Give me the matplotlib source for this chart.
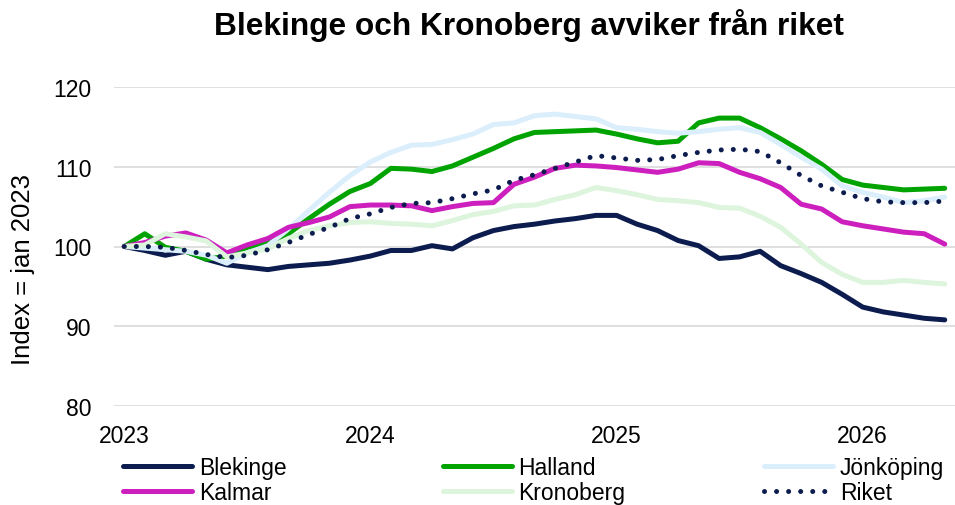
import numpy as np
import matplotlib
matplotlib.use("Agg")
import matplotlib.pyplot as plt

plt.rcParams['font.family'] = ['Liberation Sans', 'DejaVu Sans']

# monthly index, jan 2023 = 100 (jan 2023 .. maj 2026)
blekinge = [100, 99.5, 98.9, 99.4, 98.4, 97.7, 97.4, 97.1, 97.5, 97.7, 97.9, 98.3, 98.8,
            99.5, 99.5, 100.1, 99.7, 101.1, 102.0, 102.5, 102.8, 103.2, 103.5, 103.9, 103.9,
            102.8, 102.0, 100.75, 100.1, 98.5, 98.7, 99.4, 97.6, 96.6, 95.5, 94.0, 92.4,
            91.8, 91.4, 91.0, 90.8]
halland = [100, 101.6, 99.9, 99.4, 98.4, 98.8, 99.9, 100.5, 101.6, 103.5, 105.3, 106.9, 107.9,
           109.8, 109.7, 109.4, 110.1, 111.2, 112.3, 113.5, 114.3, 114.4, 114.5, 114.6, 114.1,
           113.5, 113.0, 113.2, 115.5, 116.1, 116.1, 114.9, 113.5, 112.0, 110.3, 108.4, 107.7,
           107.4, 107.1, 107.2, 107.3]
jonkoping = [100, 99.8, 99.6, 99.4, 98.9, 97.9, 99.2, 100.1, 102.2, 104.5, 106.8, 108.9, 110.6,
             111.8, 112.7, 112.8, 113.4, 114.1, 115.3, 115.5, 116.4, 116.6, 116.3, 116.0, 114.9,
             114.7, 114.4, 114.2, 114.4, 114.7, 114.9, 114.3, 112.8, 111.2, 109.7, 107.6, 106.8,
             106.2, 105.5, 105.75, 106.2]
kalmar = [100, 100.5, 101.3, 101.7, 100.8, 99.2, 100.2, 101.0, 102.4, 103.0, 103.7, 105.0, 105.2,
          105.2, 105.1, 104.5, 105.0, 105.4, 105.5, 107.8, 108.7, 109.8, 110.2, 110.1, 109.9,
          109.6, 109.3, 109.7, 110.5, 110.4, 109.3, 108.5, 107.4, 105.3, 104.7, 103.1, 102.6,
          102.2, 101.8, 101.6, 100.3]
kronoberg = [100, 100.2, 101.6, 101.2, 100.7, 98.7, 99.2, 99.7, 101.0, 102.0, 102.6, 103.0, 103.1,
             102.9, 102.8, 102.6, 103.25, 104.0, 104.4, 105.1, 105.2, 105.9, 106.5, 107.4, 107.0,
             106.5, 105.9, 105.75, 105.5, 104.9, 104.8, 103.8, 102.4, 100.3, 98.0, 96.5, 95.5,
             95.5, 95.75, 95.5, 95.3]
riket = [100, 100.0, 99.9, 99.5, 99.0, 98.6, 98.9, 99.6, 100.5, 101.5, 102.4, 103.5, 104.1,
         104.9, 105.4, 105.5, 106.0, 106.6, 107.1, 108.3, 109.0, 109.8, 110.6, 111.4, 111.1,
         110.8, 110.9, 111.4, 111.8, 112.1, 112.2, 111.9, 110.5, 108.9, 107.6, 106.8, 106.0,
         105.6, 105.5, 105.5, 105.7]

year_ticks = [0, 12, 24, 36]
year_labels = ['2023', '2024', '2025', '2026']

x = np.arange(len(riket))

fig = plt.figure(figsize=(9.55, 5.06), dpi=100)
ax = fig.add_axes([114/955, 1 - 407/506, 841/955, 319/506])

lw = 3.6
l1, = ax.plot(x, blekinge, color='#0c1c4e', lw=lw, solid_capstyle='round', label='Blekinge')
l2, = ax.plot(x, halland, color='#00a300', lw=lw, solid_capstyle='round', label='Halland')
l3, = ax.plot(x, jonkoping, color='#dbeefb', lw=lw, solid_capstyle='round', label='Jönköping')
l4, = ax.plot(x, kalmar, color='#cc1fbd', lw=lw, solid_capstyle='round', label='Kalmar')
l5, = ax.plot(x, kronoberg, color='#ddf4dd', lw=lw, solid_capstyle='round', label='Kronoberg')
l6, = ax.plot(x, riket, color='#0c1c4e', lw=lw, linestyle=(0, (0.01, 2.4)),
              dash_capstyle='round', label='Riket')

ax.set_xlim(-0.5, len(x) - 0.5)
ax.set_ylim(80, 120)
ax.set_yticks([80, 90, 100, 110, 120])
ax.set_xticks(year_ticks)
ax.set_xticklabels(year_labels)
ax.tick_params(axis='both', length=0, labelsize=16.5)
ax.tick_params(axis='y', pad=16)
ax.tick_params(axis='x', pad=13)
ax.grid(axis='y', color='#d9d9d9', lw=1.2)
ax.set_axisbelow(True)
for s in ax.spines.values():
    s.set_visible(False)

ax.set_ylabel('Index = jan 2023', fontsize=18.5)
ax.yaxis.set_label_coords(-0.094, 0.43)

fig.text(529/955, 1 - 26/506, 'Blekinge och Kronoberg avviker från riket',
         fontsize=22.8, fontweight='bold', ha='center', va='center')

# three legend columns placed by hand
cols = [(l1, l4), (l2, l5), (l3, l6)]
xs = [123, 443, 764]
for (a, b), xx in zip(cols, xs):
    leg = fig.legend([a, b], [a.get_label(), b.get_label()], loc='upper left',
                     bbox_to_anchor=(xx/955, 1 - 457/506), frameon=False,
                     fontsize=16.5, handlelength=3.0, handletextpad=0.3,
                     labelspacing=0.1, borderpad=0, borderaxespad=0)

fig.savefig('out.png', dpi=100)
